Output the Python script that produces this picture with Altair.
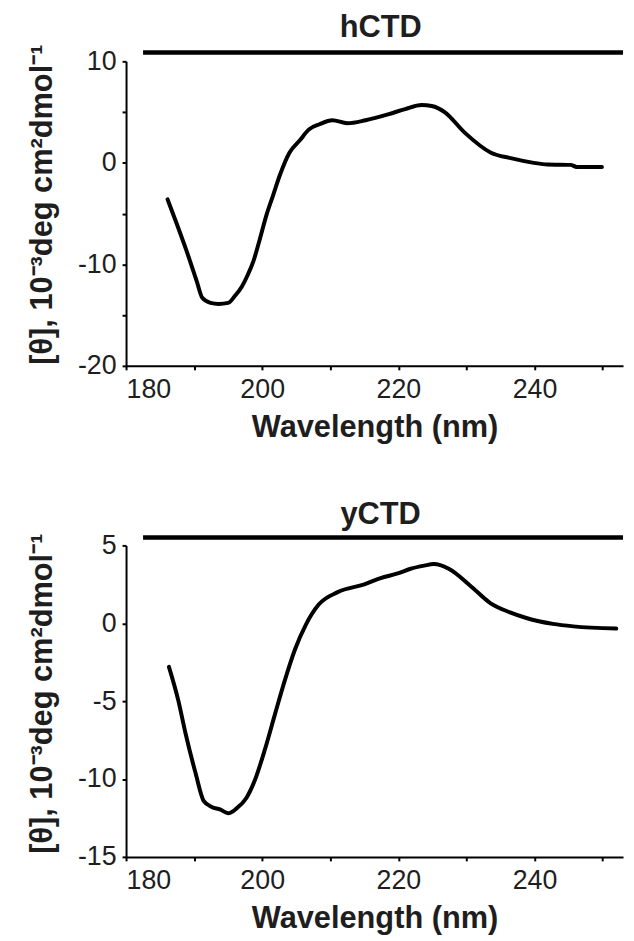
import altair as alt
import pandas as pd

# ---- data ----
h_wl = [186.1, 187.5, 188.9, 190.4, 191.2, 192.4, 193.6, 195.0, 196.0, 197.0, 197.9, 198.7,
        199.7, 200.6, 201.6, 202.6, 204.0, 205.5, 206.9, 208.4, 210.3, 212.5, 215.2, 218.6,
        221.0, 223.4, 224.9, 226.8, 229.7, 233.6, 236.5, 239.9, 241.9, 245.3, 246.2, 249.9]
h_theta = [-3.6, -6.1, -8.7, -11.7, -13.3, -13.8, -13.9, -13.8, -13.1, -12.2, -11.0, -9.7,
           -7.4, -5.2, -3.2, -1.2, 1.0, 2.2, 3.3, 3.8, 4.2, 3.9, 4.2, 4.8,
           5.3, 5.7, 5.6, 5.0, 3.0, 1.0, 0.46, 0.0, -0.16, -0.2, -0.4, -0.4]

y_wl = [186.3, 187.7, 188.7, 190.2, 191.4, 192.6, 193.8, 195.0, 196.2, 197.7, 198.9, 200.4,
        201.9, 203.3, 204.8, 206.4, 208.3, 211.1, 215.0, 217.4, 219.9, 221.8, 223.8, 225.2,
        227.4, 230.6, 233.5, 236.4, 238.8, 242.7, 245.7, 252.0]
y_theta = [-2.8, -5.0, -7.0, -9.6, -11.4, -11.8, -11.95, -12.2, -11.9, -11.2, -10.1, -8.1,
           -5.8, -3.7, -1.7, -0.1, 1.2, 2.0, 2.5, 2.9, 3.2, 3.5, 3.7, 3.8,
           3.5, 2.4, 1.3, 0.7, 0.34, -0.04, -0.2, -0.34]

titles = ["hCTD", "yCTD"]
x_ticks = [180, 190, 200, 210, 220, 230, 240, 250]
h_yticks = [-20, -15, -10, -5, 0, 5, 10]
y_yticks = [-15, -10, -5, 0, 5]
x_domain = [180, 253]
h_ydomain = [-20, 10]
y_ydomain = [-15, 5]
x_title = "Wavelength (nm)"
y_title = "[θ], 10⁻³deg cm²dmol⁻¹"

# title-bar / title placement (data units, just above each plot)
bar_start = 182.5
title_x = 217.4
h_bar_y, h_title_y = 10.88, 12.44
y_bar_y, y_title_y = 5.51, 6.40

FONT = "Liberation Sans"
INK = "#1e1e1e"


def panel(wl, theta, name, ydom, yticks, bar_y, ttl_y, height, ylabel_expr, ytitle_pos):
    xs = alt.Scale(domain=x_domain, nice=False, zero=False)
    ys = alt.Scale(domain=ydom, nice=False, zero=False)
    x_axis = alt.Axis(values=x_ticks, title=x_title,
                      labelExpr="datum.value % 20 == 0 ? '' + datum.value : ''",
                      labelPadding=7, titlePadding=10)
    y_axis = alt.Axis(values=yticks, title=y_title, labelExpr=ylabel_expr,
                      labelPadding=6, titlePadding=19, titleY=ytitle_pos)

    df = pd.DataFrame({"wl": wl, "theta": theta})
    line = alt.Chart(df).mark_line(color="black", strokeWidth=4, strokeJoin="round",
                                   strokeCap="round", interpolate="monotone").encode(
        x=alt.X("wl:Q", scale=xs, axis=x_axis),
        y=alt.Y("theta:Q", scale=ys, axis=y_axis),
    )
    bar_df = pd.DataFrame({"wl": [bar_start], "wl2": [x_domain[1]], "theta": [bar_y]})
    bar = alt.Chart(bar_df).mark_rule(color="black", strokeWidth=4.5, clip=False).encode(
        x=alt.X("wl:Q", scale=xs), x2="wl2:Q", y=alt.Y("theta:Q", scale=ys))
    t_df = pd.DataFrame({"wl": [title_x], "theta": [ttl_y], "label": [name]})
    ttl = alt.Chart(t_df).mark_text(font=FONT, fontSize=31, fontWeight="bold", color=INK,
                                    align="center", baseline="alphabetic", clip=False).encode(
        x=alt.X("wl:Q", scale=xs), y=alt.Y("theta:Q", scale=ys), text="label:N")
    return alt.layer(line, bar, ttl).properties(width=501, height=height)


p1 = panel(h_wl, h_theta, titles[0], h_ydomain, h_yticks, h_bar_y, h_title_y, 307,
           "datum.value % 10 == 0 ? '' + datum.value : ''", 144)
p2 = panel(y_wl, y_theta, titles[1], y_ydomain, y_yticks, y_bar_y, y_title_y, 314,
           "'' + datum.value", 149)

chart = alt.vconcat(p1, p2, spacing=57).properties(
    padding={"left": 18, "top": 0, "right": 0, "bottom": 0}
).configure_view(stroke=None).configure_axis(
    grid=False,
    domainColor="black", domainWidth=2,
    tickColor="black", tickWidth=2, tickSize=4,
    labelFont=FONT, labelFontSize=27, labelColor=INK,
    titleFont=FONT, titleFontSize=31, titleFontWeight="bold", titleColor=INK,
)

chart.save("out.html", embed_options={"renderer": "svg", "actions": False})
